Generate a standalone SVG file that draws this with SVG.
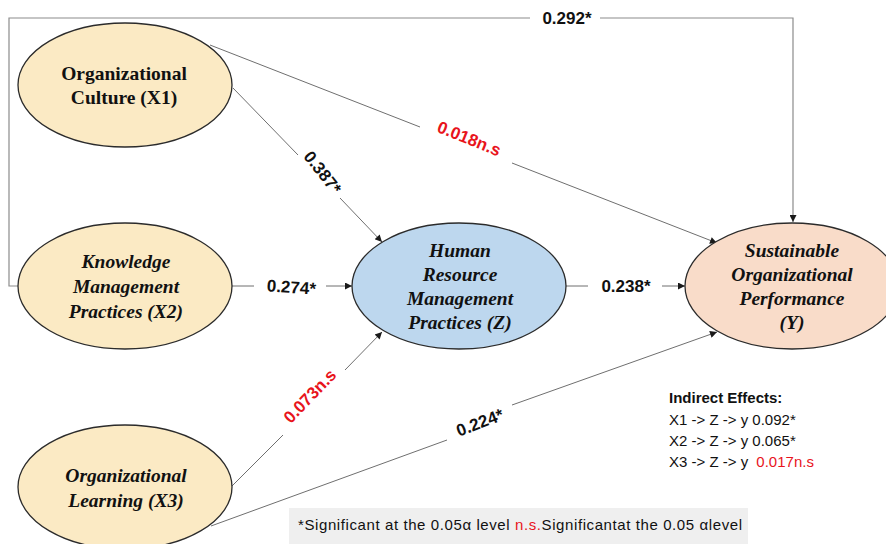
<svg xmlns="http://www.w3.org/2000/svg" width="886" height="544" viewBox="0 0 886 544">
<defs>
<marker id="arr" viewBox="0 0 10 10" refX="10" refY="5" markerWidth="9" markerHeight="7" markerUnits="userSpaceOnUse" orient="auto">
<path d="M0,0 L10,5 L0,10 z" fill="#1a1a1a"/>
</marker>
</defs>
<style>
.frame{fill:none;stroke:#8c8c8c;stroke-width:1.2}
.ln{fill:none;stroke:#6f6f6f;stroke-width:1}
.node{stroke:#2b2b2b;stroke-width:1.3}
.nt{font-family:"Liberation Serif","Times New Roman",serif;font-weight:bold;font-size:19.5px;fill:#111;text-anchor:middle}
.it{font-style:italic}
.lab{font-family:"Liberation Sans",Arial,sans-serif;font-weight:bold;font-size:17px;fill:#111;text-anchor:middle}
.red{fill:#e8141c}
.ie{font-family:"Liberation Sans",Arial,sans-serif;font-size:15px;fill:#111}
</style>
<rect width="886" height="544" fill="#ffffff"/>
<g id="connectors">
<path class="frame" d="M530,18 H9 V286 H18"/>
<path class="frame" d="M600,18 H793 V222" marker-end="url(#arr)"/>
<line class="ln" x1="233" y1="88" x2="298" y2="155"/>
<line class="ln" x1="340" y1="198" x2="382" y2="242" marker-end="url(#arr)"/>
<line class="ln" x1="210" y1="45" x2="420" y2="127"/>
<line class="ln" x1="512" y1="163" x2="717" y2="243" marker-end="url(#arr)"/>
<line class="ln" x1="232" y1="286" x2="254" y2="286"/>
<line class="ln" x1="326" y1="286" x2="352" y2="286" marker-end="url(#arr)"/>
<line class="ln" x1="566" y1="286" x2="588" y2="286"/>
<line class="ln" x1="662" y1="286" x2="685" y2="286" marker-end="url(#arr)"/>
<line class="ln" x1="232" y1="486" x2="283" y2="435"/>
<line class="ln" x1="345" y1="370" x2="382" y2="332" marker-end="url(#arr)"/>
<line class="ln" x1="211" y1="526" x2="447" y2="440"/>
<line class="ln" x1="512" y1="405" x2="717" y2="332" marker-end="url(#arr)"/>
<text class="lab" x="567" y="24">0.292*</text>
<text class="lab" transform="translate(318,176) rotate(52)">0.387*</text>
<text class="lab red" transform="translate(467,144) rotate(22)">0.018n.s</text>
<text class="lab" transform="translate(291,293) rotate(4)">0.274*</text>
<text class="lab" x="626" y="292">0.238*</text>
<text class="lab red" transform="translate(314,400) rotate(-46)">0.073n.s</text>
<text class="lab" transform="translate(482,428) rotate(-21)">0.224*</text>
</g>
<g id="X1">
<ellipse class="node" cx="125" cy="85" rx="107" ry="62" fill="#fbeac4"/>
<text class="nt" x="124" y="80">Organizational</text>
<text class="nt" x="124" y="104">Culture (X1)</text>
</g>
<g id="X2">
<ellipse class="node" cx="125" cy="286" rx="107" ry="63" fill="#fbeac4"/>
<text class="nt it" x="126" y="268">Knowledge</text>
<text class="nt it" x="126" y="293">Management</text>
<text class="nt it" x="126" y="318">Practices (X2)</text>
</g>
<g id="X3">
<ellipse class="node" cx="125" cy="487" rx="107" ry="62" fill="#fbeac4"/>
<text class="nt it" x="126" y="482">Organizational</text>
<text class="nt it" x="126" y="507">Learning (X3)</text>
</g>
<g id="Z">
<ellipse class="node" cx="459" cy="286" rx="107" ry="63" fill="#bdd7ee"/>
<text class="nt it" x="460" y="257">Human</text>
<text class="nt it" x="460" y="281">Resource</text>
<text class="nt it" x="460" y="305">Management</text>
<text class="nt it" x="460" y="329">Practices (Z)</text>
</g>
<g id="Y">
<ellipse class="node" cx="792" cy="286" rx="107" ry="63" fill="#f9dcc9"/>
<text class="nt it" x="792" y="257">Sustainable</text>
<text class="nt it" x="792" y="281">Organizational</text>
<text class="nt it" x="792" y="305">Performance</text>
<text class="nt it" x="792" y="329">(Y)</text>
</g>
<g id="indirect">
<text class="ie" x="669" y="403" font-weight="bold">Indirect Effects:</text>
<text class="ie" x="669" y="425">X1 -&gt; Z -&gt; y 0.092*</text>
<text class="ie" x="669" y="446">X2 -&gt; Z -&gt; y 0.065*</text>
<text class="ie" x="669" y="467">X3 -&gt; Z -&gt; y  <tspan class="red" dx="4">0.017n.s</tspan></text>
</g>
<g id="legend">
<rect x="289" y="508" width="459" height="36" fill="#efefef"/>
<text class="ie" x="298" y="530" textLength="444" lengthAdjust="spacing">*Significant at the 0.05α level   <tspan class="red">n.s.</tspan>Significantat the 0.05 αlevel</text>
</g>
</svg>
